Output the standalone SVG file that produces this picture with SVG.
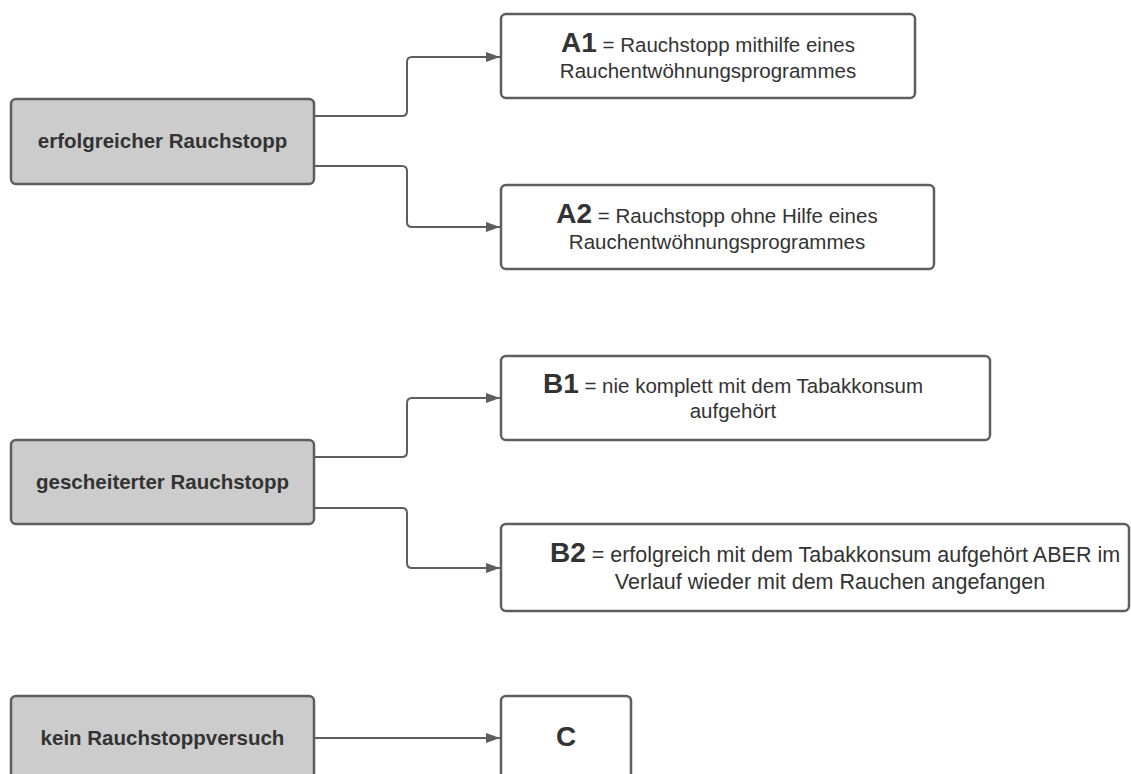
<svg xmlns="http://www.w3.org/2000/svg" width="1131" height="774" viewBox="0 0 1131 774">
  <style>
    .box { stroke: #5e5e5e; stroke-width: 2.5; }
    .src { fill: #cccccc; }
    .dst { fill: #ffffff; }
    .lbl { font-family: "Liberation Sans", Arial, sans-serif; fill: #333333; }
    .bold { font-weight: bold; font-size: 20.5px; }
    .reg { font-size: 20.5px; }
    .reg-l { font-size: 21.5px; }
    .big { font-weight: bold; font-size: 28px; }
    .conn { fill: none; stroke: #5e5e5e; stroke-width: 2; }
  </style>
  <defs>
    <marker id="arrow" markerWidth="14" markerHeight="10" refX="14" refY="5" orient="auto" markerUnits="userSpaceOnUse">
      <path d="M0,0 L14,5 L0,10 Z" fill="#5e5e5e"/>
    </marker>
  </defs>
  <rect width="1131" height="774" fill="#ffffff"/>

  <!-- connectors -->
  <g id="connectors">
    <path class="conn" marker-end="url(#arrow)" d="M314,116 H402 Q407,116 407,111 V62 Q407,57 412,57 H500"/>
    <path class="conn" marker-end="url(#arrow)" d="M314,166 H402 Q407,166 407,171 V222 Q407,227 412,227 H500"/>
    <path class="conn" marker-end="url(#arrow)" d="M314,457 H402 Q407,457 407,452 V403 Q407,398 412,398 H500"/>
    <path class="conn" marker-end="url(#arrow)" d="M314,508 H402 Q407,508 407,513 V563 Q407,568 412,568 H500"/>
    <path class="conn" marker-end="url(#arrow)" d="M314,738 H500"/>
  </g>

  <!-- source nodes -->
  <g id="node-erfolgreich">
    <rect class="box src" x="11" y="99" width="303" height="85" rx="5"/>
    <text class="lbl bold" x="162.5" y="148" text-anchor="middle">erfolgreicher Rauchstopp</text>
  </g>
  <g id="node-gescheitert">
    <rect class="box src" x="11" y="440" width="303" height="84" rx="5"/>
    <text class="lbl bold" x="162.5" y="489" text-anchor="middle">gescheiterter Rauchstopp</text>
  </g>
  <g id="node-kein">
    <rect class="box src" x="11" y="696" width="303" height="100" rx="5"/>
    <text class="lbl bold" x="162.5" y="745" text-anchor="middle">kein Rauchstoppversuch</text>
  </g>

  <!-- target nodes -->
  <g id="node-a1">
    <rect class="box dst" x="501" y="14" width="414" height="84" rx="5"/>
    <text class="lbl reg" x="708" y="52" text-anchor="middle"><tspan class="big">A1</tspan> = Rauchstopp mithilfe eines</text>
    <text class="lbl reg" x="708" y="78" text-anchor="middle">Rauchentwöhnungsprogrammes</text>
  </g>
  <g id="node-a2">
    <rect class="box dst" x="501" y="185" width="433" height="84" rx="5"/>
    <text class="lbl reg" x="717" y="223" text-anchor="middle"><tspan class="big">A2</tspan> = Rauchstopp ohne Hilfe eines</text>
    <text class="lbl reg" x="717" y="249" text-anchor="middle">Rauchentwöhnungsprogrammes</text>
  </g>
  <g id="node-b1">
    <rect class="box dst" x="501" y="356" width="489" height="84" rx="5"/>
    <text class="lbl reg" x="733" y="393" text-anchor="middle"><tspan class="big">B1</tspan> = nie komplett mit dem Tabakkonsum</text>
    <text class="lbl reg" x="733" y="418" text-anchor="middle">aufgehört</text>
  </g>
  <g id="node-b2">
    <rect class="box dst" x="501" y="524" width="628" height="87" rx="5"/>
    <text class="lbl reg-l" x="835" y="562" text-anchor="middle"><tspan class="big">B2</tspan> = erfolgreich mit dem Tabakkonsum aufgehört ABER im</text>
    <text class="lbl reg-l" x="830" y="589" text-anchor="middle">Verlauf wieder mit dem Rauchen angefangen</text>
  </g>
  <g id="node-c">
    <rect class="box dst" x="501" y="696" width="130" height="100" rx="5"/>
    <text class="lbl big" x="566" y="746" text-anchor="middle">C</text>
  </g>
</svg>
